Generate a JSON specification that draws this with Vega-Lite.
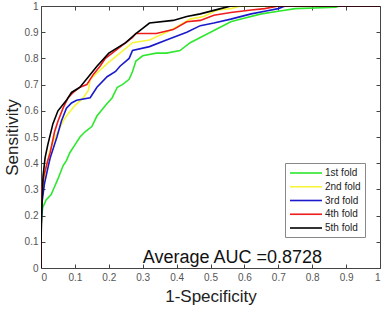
{
  "$schema": "https://vega.github.io/schema/vega-lite/v6.json",
  "width": 339,
  "height": 262,
  "autosize": "none",
  "padding": {"left": 41, "top": 6, "right": 4, "bottom": 42},
  "config": {
    "font": "Liberation Sans",
    "view": {"stroke": null},
    "axis": {"grid": false, "domainColor": "#444", "tickColor": "#444", "labelColor": "#555", "labelFontSize": 10, "titleColor": "#222", "titleFontSize": 17, "titleFontWeight": "normal"}
  },
  "datasets": {
    "roc": [
      {"fold": "1st fold", "fpr": 0, "tpr": 0},
      {"fold": "1st fold", "fpr": 0, "tpr": 0.15},
      {"fold": "1st fold", "fpr": 0.002, "tpr": 0.2},
      {"fold": "1st fold", "fpr": 0.005, "tpr": 0.23},
      {"fold": "1st fold", "fpr": 0.015, "tpr": 0.26},
      {"fold": "1st fold", "fpr": 0.03, "tpr": 0.28},
      {"fold": "1st fold", "fpr": 0.04, "tpr": 0.31},
      {"fold": "1st fold", "fpr": 0.05, "tpr": 0.34},
      {"fold": "1st fold", "fpr": 0.056, "tpr": 0.36},
      {"fold": "1st fold", "fpr": 0.065, "tpr": 0.39},
      {"fold": "1st fold", "fpr": 0.075, "tpr": 0.41},
      {"fold": "1st fold", "fpr": 0.085, "tpr": 0.44},
      {"fold": "1st fold", "fpr": 0.1, "tpr": 0.47},
      {"fold": "1st fold", "fpr": 0.115, "tpr": 0.5},
      {"fold": "1st fold", "fpr": 0.13, "tpr": 0.52},
      {"fold": "1st fold", "fpr": 0.15, "tpr": 0.54},
      {"fold": "1st fold", "fpr": 0.165, "tpr": 0.58},
      {"fold": "1st fold", "fpr": 0.19, "tpr": 0.62},
      {"fold": "1st fold", "fpr": 0.21, "tpr": 0.65},
      {"fold": "1st fold", "fpr": 0.225, "tpr": 0.69},
      {"fold": "1st fold", "fpr": 0.24, "tpr": 0.7},
      {"fold": "1st fold", "fpr": 0.26, "tpr": 0.72},
      {"fold": "1st fold", "fpr": 0.27, "tpr": 0.75},
      {"fold": "1st fold", "fpr": 0.28, "tpr": 0.79},
      {"fold": "1st fold", "fpr": 0.3, "tpr": 0.81},
      {"fold": "1st fold", "fpr": 0.34, "tpr": 0.82},
      {"fold": "1st fold", "fpr": 0.37, "tpr": 0.82},
      {"fold": "1st fold", "fpr": 0.41, "tpr": 0.83},
      {"fold": "1st fold", "fpr": 0.44, "tpr": 0.86},
      {"fold": "1st fold", "fpr": 0.47, "tpr": 0.88},
      {"fold": "1st fold", "fpr": 0.5, "tpr": 0.9},
      {"fold": "1st fold", "fpr": 0.53, "tpr": 0.92},
      {"fold": "1st fold", "fpr": 0.56, "tpr": 0.94},
      {"fold": "1st fold", "fpr": 0.59, "tpr": 0.95},
      {"fold": "1st fold", "fpr": 0.65, "tpr": 0.97},
      {"fold": "1st fold", "fpr": 0.7, "tpr": 0.98},
      {"fold": "1st fold", "fpr": 0.75, "tpr": 0.99},
      {"fold": "1st fold", "fpr": 0.87, "tpr": 0.995},
      {"fold": "1st fold", "fpr": 0.88, "tpr": 1},
      {"fold": "1st fold", "fpr": 1, "tpr": 1},
      {"fold": "2nd fold", "fpr": 0, "tpr": 0},
      {"fold": "2nd fold", "fpr": 0, "tpr": 0.2},
      {"fold": "2nd fold", "fpr": 0.005, "tpr": 0.3},
      {"fold": "2nd fold", "fpr": 0.015, "tpr": 0.38},
      {"fold": "2nd fold", "fpr": 0.025, "tpr": 0.44},
      {"fold": "2nd fold", "fpr": 0.035, "tpr": 0.48},
      {"fold": "2nd fold", "fpr": 0.05, "tpr": 0.52},
      {"fold": "2nd fold", "fpr": 0.065, "tpr": 0.56},
      {"fold": "2nd fold", "fpr": 0.075, "tpr": 0.58},
      {"fold": "2nd fold", "fpr": 0.1, "tpr": 0.62},
      {"fold": "2nd fold", "fpr": 0.125, "tpr": 0.65},
      {"fold": "2nd fold", "fpr": 0.14, "tpr": 0.68},
      {"fold": "2nd fold", "fpr": 0.145, "tpr": 0.72},
      {"fold": "2nd fold", "fpr": 0.17, "tpr": 0.75},
      {"fold": "2nd fold", "fpr": 0.195, "tpr": 0.78},
      {"fold": "2nd fold", "fpr": 0.233, "tpr": 0.82},
      {"fold": "2nd fold", "fpr": 0.27, "tpr": 0.86},
      {"fold": "2nd fold", "fpr": 0.32, "tpr": 0.87},
      {"fold": "2nd fold", "fpr": 0.37, "tpr": 0.9},
      {"fold": "2nd fold", "fpr": 0.4, "tpr": 0.92},
      {"fold": "2nd fold", "fpr": 0.44, "tpr": 0.95},
      {"fold": "2nd fold", "fpr": 0.48, "tpr": 0.96},
      {"fold": "2nd fold", "fpr": 0.52, "tpr": 0.985},
      {"fold": "2nd fold", "fpr": 0.56, "tpr": 0.99},
      {"fold": "2nd fold", "fpr": 0.59, "tpr": 1},
      {"fold": "2nd fold", "fpr": 1, "tpr": 1},
      {"fold": "3rd fold", "fpr": 0, "tpr": 0},
      {"fold": "3rd fold", "fpr": 0, "tpr": 0.15},
      {"fold": "3rd fold", "fpr": 0.003, "tpr": 0.25},
      {"fold": "3rd fold", "fpr": 0.01, "tpr": 0.32},
      {"fold": "3rd fold", "fpr": 0.02, "tpr": 0.38},
      {"fold": "3rd fold", "fpr": 0.027, "tpr": 0.42},
      {"fold": "3rd fold", "fpr": 0.037, "tpr": 0.46},
      {"fold": "3rd fold", "fpr": 0.047, "tpr": 0.5},
      {"fold": "3rd fold", "fpr": 0.06, "tpr": 0.56},
      {"fold": "3rd fold", "fpr": 0.075, "tpr": 0.61},
      {"fold": "3rd fold", "fpr": 0.09, "tpr": 0.63},
      {"fold": "3rd fold", "fpr": 0.105, "tpr": 0.64},
      {"fold": "3rd fold", "fpr": 0.145, "tpr": 0.65},
      {"fold": "3rd fold", "fpr": 0.165, "tpr": 0.69},
      {"fold": "3rd fold", "fpr": 0.195, "tpr": 0.73},
      {"fold": "3rd fold", "fpr": 0.22, "tpr": 0.75},
      {"fold": "3rd fold", "fpr": 0.233, "tpr": 0.77},
      {"fold": "3rd fold", "fpr": 0.26, "tpr": 0.8},
      {"fold": "3rd fold", "fpr": 0.27, "tpr": 0.83},
      {"fold": "3rd fold", "fpr": 0.32, "tpr": 0.845},
      {"fold": "3rd fold", "fpr": 0.37, "tpr": 0.87},
      {"fold": "3rd fold", "fpr": 0.43, "tpr": 0.9},
      {"fold": "3rd fold", "fpr": 0.47, "tpr": 0.925},
      {"fold": "3rd fold", "fpr": 0.51, "tpr": 0.935},
      {"fold": "3rd fold", "fpr": 0.56, "tpr": 0.95},
      {"fold": "3rd fold", "fpr": 0.62, "tpr": 0.97},
      {"fold": "3rd fold", "fpr": 0.66, "tpr": 0.98},
      {"fold": "3rd fold", "fpr": 0.7, "tpr": 0.99},
      {"fold": "3rd fold", "fpr": 0.72, "tpr": 1},
      {"fold": "3rd fold", "fpr": 1, "tpr": 1},
      {"fold": "4th fold", "fpr": 0, "tpr": 0},
      {"fold": "4th fold", "fpr": 0, "tpr": 0.2},
      {"fold": "4th fold", "fpr": 0.002, "tpr": 0.3},
      {"fold": "4th fold", "fpr": 0.01, "tpr": 0.36},
      {"fold": "4th fold", "fpr": 0.02, "tpr": 0.41},
      {"fold": "4th fold", "fpr": 0.027, "tpr": 0.44},
      {"fold": "4th fold", "fpr": 0.04, "tpr": 0.52},
      {"fold": "4th fold", "fpr": 0.05, "tpr": 0.56},
      {"fold": "4th fold", "fpr": 0.065, "tpr": 0.61},
      {"fold": "4th fold", "fpr": 0.08, "tpr": 0.65},
      {"fold": "4th fold", "fpr": 0.095, "tpr": 0.67},
      {"fold": "4th fold", "fpr": 0.115, "tpr": 0.69},
      {"fold": "4th fold", "fpr": 0.135, "tpr": 0.7},
      {"fold": "4th fold", "fpr": 0.155, "tpr": 0.74},
      {"fold": "4th fold", "fpr": 0.174, "tpr": 0.77},
      {"fold": "4th fold", "fpr": 0.19, "tpr": 0.8},
      {"fold": "4th fold", "fpr": 0.21, "tpr": 0.82},
      {"fold": "4th fold", "fpr": 0.23, "tpr": 0.84},
      {"fold": "4th fold", "fpr": 0.25, "tpr": 0.86},
      {"fold": "4th fold", "fpr": 0.27, "tpr": 0.88},
      {"fold": "4th fold", "fpr": 0.28, "tpr": 0.895},
      {"fold": "4th fold", "fpr": 0.34, "tpr": 0.895},
      {"fold": "4th fold", "fpr": 0.39, "tpr": 0.91},
      {"fold": "4th fold", "fpr": 0.43, "tpr": 0.94},
      {"fold": "4th fold", "fpr": 0.47, "tpr": 0.945},
      {"fold": "4th fold", "fpr": 0.51, "tpr": 0.965},
      {"fold": "4th fold", "fpr": 0.56, "tpr": 0.975},
      {"fold": "4th fold", "fpr": 0.62, "tpr": 0.985},
      {"fold": "4th fold", "fpr": 0.66, "tpr": 0.99},
      {"fold": "4th fold", "fpr": 0.7, "tpr": 1},
      {"fold": "4th fold", "fpr": 1, "tpr": 1},
      {"fold": "5th fold", "fpr": 0, "tpr": 0},
      {"fold": "5th fold", "fpr": 0, "tpr": 0.1},
      {"fold": "5th fold", "fpr": 0.003, "tpr": 0.25},
      {"fold": "5th fold", "fpr": 0.006, "tpr": 0.35},
      {"fold": "5th fold", "fpr": 0.012, "tpr": 0.42},
      {"fold": "5th fold", "fpr": 0.02, "tpr": 0.47},
      {"fold": "5th fold", "fpr": 0.035, "tpr": 0.55},
      {"fold": "5th fold", "fpr": 0.05, "tpr": 0.6},
      {"fold": "5th fold", "fpr": 0.075, "tpr": 0.64},
      {"fold": "5th fold", "fpr": 0.09, "tpr": 0.67},
      {"fold": "5th fold", "fpr": 0.115, "tpr": 0.69},
      {"fold": "5th fold", "fpr": 0.14, "tpr": 0.73},
      {"fold": "5th fold", "fpr": 0.165, "tpr": 0.77},
      {"fold": "5th fold", "fpr": 0.2, "tpr": 0.82},
      {"fold": "5th fold", "fpr": 0.225, "tpr": 0.84},
      {"fold": "5th fold", "fpr": 0.25, "tpr": 0.86},
      {"fold": "5th fold", "fpr": 0.28, "tpr": 0.895},
      {"fold": "5th fold", "fpr": 0.3, "tpr": 0.915},
      {"fold": "5th fold", "fpr": 0.32, "tpr": 0.935},
      {"fold": "5th fold", "fpr": 0.39, "tpr": 0.945},
      {"fold": "5th fold", "fpr": 0.43, "tpr": 0.96},
      {"fold": "5th fold", "fpr": 0.47, "tpr": 0.97},
      {"fold": "5th fold", "fpr": 0.53, "tpr": 0.99},
      {"fold": "5th fold", "fpr": 0.56, "tpr": 1},
      {"fold": "5th fold", "fpr": 1, "tpr": 1}
    ],
    "note": [{"label": "Average AUC =0.8728", "fpr": 0.3, "tpr": 0.018}]
  },
  "layer": [
    {
      "data": {"name": "roc"},
      "mark": {"type": "line", "strokeWidth": 1.6, "clip": true},
      "encoding": {
        "x": {"field": "fpr", "type": "quantitative", "scale": {"domain": [0, 1], "nice": false},
              "axis": {"title": "1-Specificity", "tickCount": 10, "format": "~g", "tickSize": -4, "labelPadding": 8, "titlePadding": 6, "domain": true}},
        "y": {"field": "tpr", "type": "quantitative", "scale": {"domain": [0, 1], "nice": false},
              "axis": {"title": "Sensitivity", "titleFontSize": 17, "tickCount": 10, "format": "~g", "tickSize": -4, "labelPadding": 7, "titlePadding": 3}},
        "color": {"field": "fold", "type": "nominal",
                  "scale": {"domain": ["1st fold", "2nd fold", "3rd fold", "4th fold", "5th fold"], "range": ["#2ee82e", "#f7f53a", "#1a1acc", "#ee1c1c", "#000000"]},
                  "legend": {"title": null, "orient": "none", "legendX": 244, "legendY": 157, "symbolType": "M-1,0H5.4", "symbolSize": 100, "symbolStrokeWidth": 1.6, "labelFontSize": 10, "labelColor": "#222", "rowPadding": 2.75, "padding": 4, "strokeColor": "#888", "fillColor": "white", "labelOffset": 24}}
      }
    },
    {
      "data": {"name": "note"},
      "mark": {"type": "text", "align": "left", "baseline": "alphabetic", "fontSize": 18, "color": "#111"},
      "encoding": {
        "x": {"field": "fpr", "type": "quantitative", "axis": {"orient": "top", "title": null, "labels": false, "tickCount": 10, "tickSize": -4}},
        "y": {"field": "tpr", "type": "quantitative", "axis": {"orient": "right", "title": null, "labels": false, "tickCount": 10, "tickSize": -4}},
        "text": {"field": "label"}
      }
    }
  ],
  "resolve": {"axis": {"x": "independent", "y": "independent"}}
}
